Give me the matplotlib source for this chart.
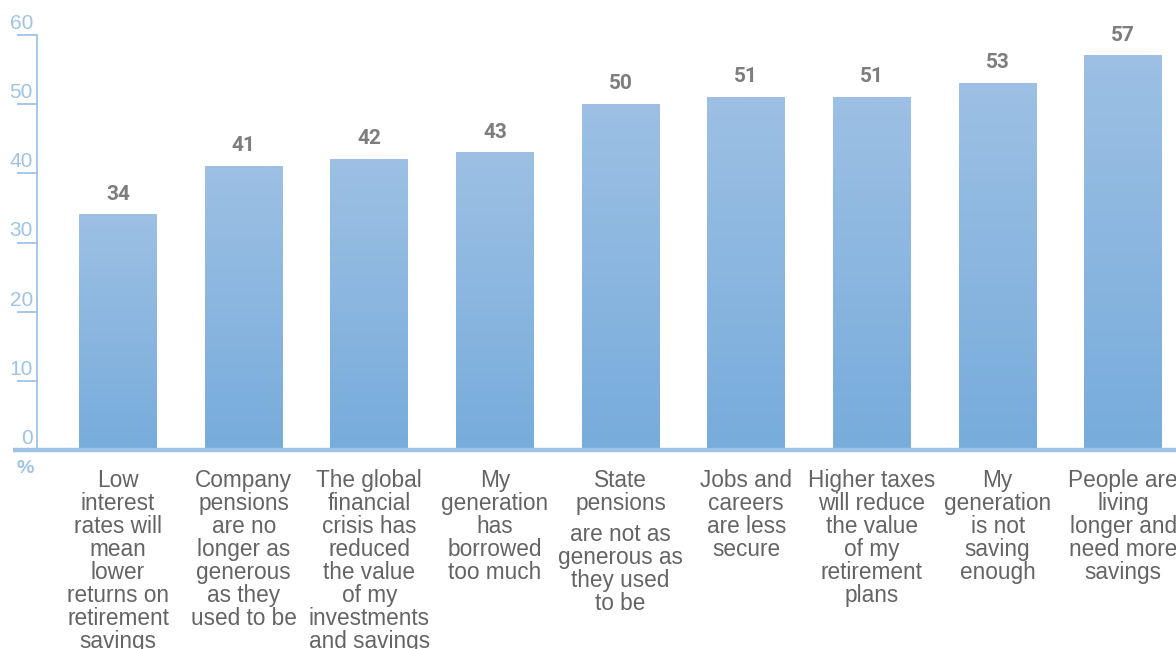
import numpy as np
import matplotlib.pyplot as plt
from matplotlib.colors import LinearSegmentedColormap

categories = [
    "Low\ninterest\nrates will\nmean\nlower\nreturns on\nretirement\nsavings",
    "Company\npensions\nare no\nlonger as\ngenerous\nas they\nused to be",
    "The global\nfinancial\ncrisis has\nreduced\nthe value\nof my\ninvestments\nand savings",
    "My\ngeneration\nhas\nborrowed\ntoo much",
    "State\npensions|are not as\ngenerous as\nthey used\nto be",
    "Jobs and\ncareers\nare less\nsecure",
    "Higher taxes\nwill reduce\nthe value\nof my\nretirement\nplans",
    "My\ngeneration\nis not\nsaving\nenough",
    "People are\nliving\nlonger and\nneed more\nsavings",
]
values = [34, 41, 42, 43, 50, 51, 51, 53, 57]
yticks = [0, 10, 20, 30, 40, 50, 60]

axis_blue = "#9fc3e8"
label_grey = "#646464"
value_grey = "#7d7d7d"
bar_cmap = LinearSegmentedColormap.from_list("barfade", ["#77acdb", "#9dc0e4"])

fig = plt.figure(figsize=(11.76, 6.49), dpi=100)
ax = fig.add_axes([37 / 1176, 199 / 649, 1 - 37 / 1176, 415 / 649])

x = np.arange(len(values))
width = 0.62
grad = np.linspace(0, 1, 256).reshape(-1, 1)
for xi, v in zip(x, values):
    ax.imshow(grad, extent=[xi - width / 2, xi + width / 2, 0, v], origin="lower",
              cmap=bar_cmap, aspect="auto", zorder=2, interpolation="bilinear")
    ax.annotate(str(v), (xi, v), xytext=(0, 11), textcoords="offset pixels",
                ha="center", va="bottom", fontsize=15, fontweight="bold",
                color=value_grey, family="Roboto")

ax.set_xlim(-0.645, 8.42)
ax.set_ylim(0, 60)

for s in ["top", "right", "bottom"]:
    ax.spines[s].set_visible(False)
ax.spines["left"].set_color(axis_blue)
ax.spines["left"].set_linewidth(1.3)
ax.set_xticks([])
ax.set_yticks(yticks)
ax.tick_params(axis="y", length=14.5, width=1.3, color=axis_blue, labelleft=False)

for t in yticks:
    ax.annotate(str(t), (0, t), xycoords=("axes fraction", "data"),
                xytext=(-4, 2), textcoords="offset pixels", ha="right", va="bottom",
                fontsize=15, color=axis_blue, family="Liberation Sans")

# thick baseline that runs past the axis to the left
ax.plot([-0.835, 8.42], [0, 0], color="#9fc3e6", linewidth=3.2, clip_on=False,
        solid_capstyle="butt", zorder=3)
ax.annotate("%", (0, 0), xycoords="axes fraction", xytext=(-12, -10),
            textcoords="offset pixels", ha="center", va="top", fontsize=14,
            fontweight="bold", color=axis_blue, family="Liberation Sans")

line_px = 22.8
for xi, lab in zip(x, categories):
    y_off = -19
    for part in lab.split("|"):
        ax.annotate(part, (xi, 0), xytext=(0, y_off), textcoords="offset pixels",
                    ha="center", va="top", fontsize=16.3, color=label_grey,
                    family="Liberation Sans", linespacing=1.0, annotation_clip=False)
        y_off -= line_px * (part.count("\n") + 1) + 8

fig.savefig("out.png", dpi=100)
